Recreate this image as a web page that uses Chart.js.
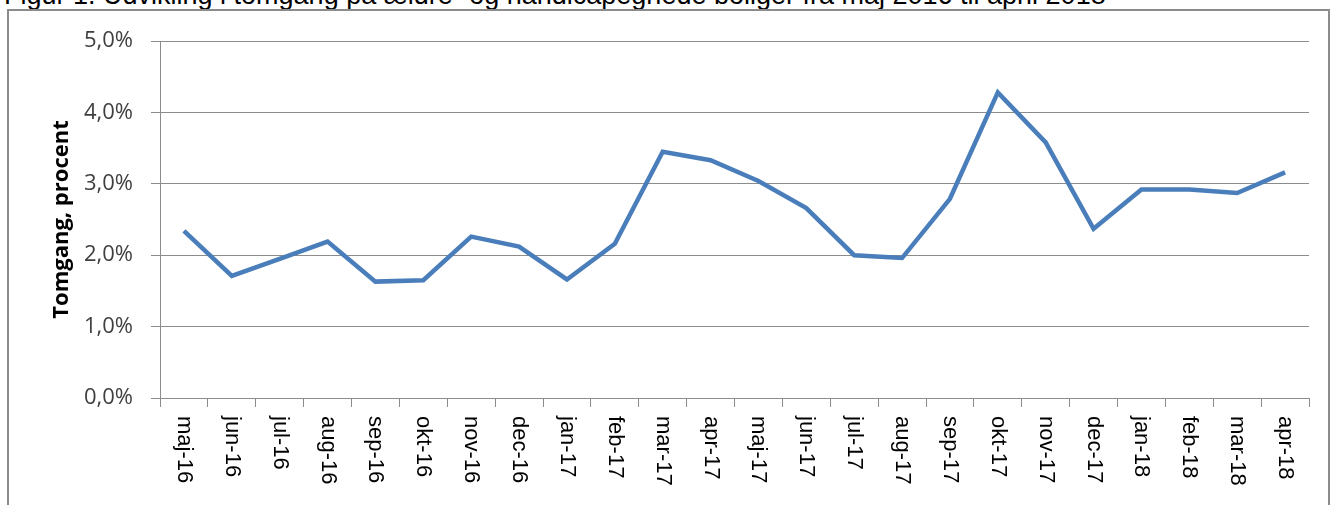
<!DOCTYPE html>
<html lang="da">
<head>
<meta charset="utf-8" />
<title>Tomgang</title>
<script src="https://cdn.jsdelivr.net/npm/chart.js@4"></script>
<style>
  body { margin: 0; background: #fff; width: 1330px; height: 505px; overflow: hidden; position: relative; }
  #title { position: absolute; left: 4px; top: -18px; font-family: "Liberation Sans", Arial, sans-serif; font-size: 27px; line-height: 27px; color: #000; white-space: nowrap; }
  #frame { position: absolute; left: 7px; top: 9px; width: 1319px; height: 520px; border: 2px solid #8c8c8c; }
  #wrap { position: absolute; left: 0; top: 0; width: 1330px; height: 505px; }
</style>
</head>
<body>
<div id="title">Figur 1. Udvikling i tomgang på ældre- og handicapegnede boliger fra maj 2016 til april 2018</div>
<div id="frame"></div>
<div id="wrap"><canvas id="myChart" width="1330" height="505"></canvas></div>
<script>
// months shown on the x axis
var months = ["maj-16", "jun-16", "jul-16", "aug-16", "sep-16", "okt-16", "nov-16", "dec-16",
              "jan-17", "feb-17", "mar-17", "apr-17", "maj-17", "jun-17", "jul-17", "aug-17",
              "sep-17", "okt-17", "nov-17", "dec-17", "jan-18", "feb-18", "mar-18", "apr-18"];
// vacancy in percent
var tomgang = [2.34, 1.71, 1.95, 2.19, 1.63, 1.65, 2.26, 2.12,
               1.66, 2.16, 3.45, 3.33, 3.04, 2.66, 2.00, 1.96,
               2.79, 4.28, 3.58, 2.37, 2.92, 2.92, 2.87, 3.16];
var yTicks = [0, 1, 2, 3, 4, 5];

// draws the month labels turned 90 degrees clockwise
var verticalLabels = {
    id: "verticalLabels",
    afterDraw: function (chart) {
        var ctx = chart.ctx;
        var x = chart.scales.x;
        ctx.save();
        ctx.font = "22px 'Liberation Sans', Arial, sans-serif";
        ctx.fillStyle = "#000";
        ctx.textAlign = "left";
        ctx.textBaseline = "middle";
        months.forEach(function (m, i) {
            ctx.save();
            ctx.translate(x.getPixelForValue(i), x.top + 18);
            ctx.rotate(Math.PI / 2);
            ctx.fillText(m, 0, 0);
            ctx.restore();
        });
        ctx.restore();
    }
};

var ctx = document.getElementById("myChart").getContext("2d");
var myChart = new Chart(ctx, {
    type: "line",
    data: {
        labels: months,
        datasets: [{
            data: tomgang,
            borderColor: "#4a7ebb",
            borderWidth: 4.5,
            pointRadius: 0,
            tension: 0,
            fill: false
        }]
    },
    options: {
        responsive: false,
        animation: false,
        layout: { padding: { left: 49, right: 21, top: 41, bottom: 0 } },
        plugins: { legend: { display: false }, tooltip: { enabled: false } },
        scales: {
            x: {
                offset: true,
                grid: { offset: true, drawOnChartArea: false, color: "#8c8c8c", tickLength: 9, tickColor: "#8c8c8c" },
                border: { color: "#8c8c8c", width: 1 },
                ticks: { display: false },
                afterFit: function (scale) { scale.height = 505 - 398; }
            },
            y: {
                min: 0,
                max: 5,
                afterBuildTicks: function (scale) {
                    scale.ticks = yTicks.map(function (v) { return { value: v }; });
                },
                grid: { color: "#8c8c8c", tickLength: 9, tickColor: "#8c8c8c" },
                border: { color: "#8c8c8c", width: 1 },
                ticks: {
                    color: "#404040",
                    font: { family: "'Open Sans', sans-serif", size: 22 },
                    padding: 18,
                    callback: function (v) { return v.toFixed(1).replace(".", ",") + "%"; }
                },
                title: {
                    display: true,
                    text: "Tomgang, procent",
                    color: "#000",
                    font: { family: "'Open Sans', sans-serif", size: 22, weight: "bold" },
                    padding: { top: 0, bottom: 0 }
                },
                afterFit: function (scale) { scale.width = 111; }
            }
        }
    },
    plugins: [verticalLabels]
});
</script>
</body>
</html>
